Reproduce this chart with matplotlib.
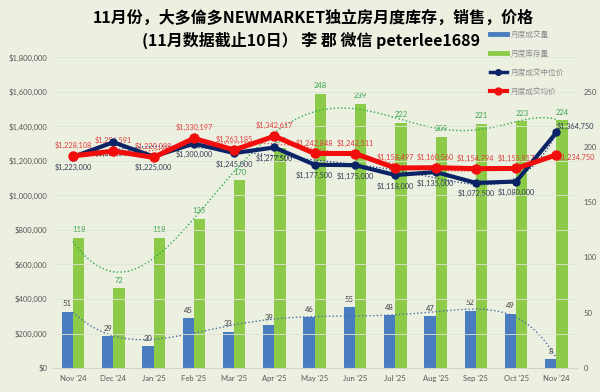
import numpy as np
import matplotlib.pyplot as plt
from matplotlib.lines import Line2D

plt.rcParams['font.family'] = ['Lato', 'Noto Sans CJK SC', 'DejaVu Sans']

months = ["Nov '24", "Dec '24", "Jan '25", "Feb '25", "Mar '25", "Apr '25", "May '25",
          "Jun '25", "Jul '25", "Aug '25", "Sep '25", "Oct '25", "Nov '24"]
sales = [51, 29, 20, 45, 33, 39, 46, 55, 48, 47, 52, 49, 8]
inventory = [118, 72, 118, 135, 170, 199, 248, 239, 222, 209, 221, 223, 224]
median_price = [1223000, 1307500, 1225000, 1300000, 1245000, 1277500, 1177500,
                1175000, 1118000, 1135000, 1072500, 1080000, 1364750]
avg_price = [1228108, 1256591, 1220088, 1330197, 1263185, 1342617, 1242848,
             1242511, 1158497, 1160560, 1154794, 1155917, 1234750]

BG = "#EBF0E1"
BLUE = "#4A7DBF"
GREEN = "#8CCB48"
NAVY = "#0B2466"
RED = "#F20D0D"
GRAY = "#595959"

fig = plt.figure(figsize=(6, 3.92), dpi=100, facecolor=BG)
ax = fig.add_axes([0.088, 0.061, 0.873, 0.793], facecolor=BG)
x = np.arange(len(months))
w = 0.28

ax.bar(x - w / 2, sales, w, color=BLUE, zorder=2)
ax.bar(x + w / 2, inventory, w, color=GREEN, zorder=2)
for i in x:
    ax.text(i - w / 2, sales[i] + 4, str(sales[i]), ha="center", va="bottom",
            fontsize=5.5, color="#404040")
    ax.text(i + w / 2, inventory[i] + 4, str(inventory[i]), ha="center", va="bottom",
            fontsize=5.5, color="#3FA34D")

# polynomial trendlines (like Excel's)
xs = np.linspace(0, len(x) - 1, 200)
ps = np.polyfit(x, sales, 6)
pi = np.polyfit(x, inventory, 6)
ax.plot(xs, np.polyval(ps, xs), ls=":", color="#4A6FA5", lw=1, zorder=3)
ax.plot(xs, np.polyval(pi, xs), ls=":", color="#2EA84A", lw=1, zorder=3)

ax.set_ylim(0, 281)
ax.set_xlim(-0.5, len(x) - 0.5)
ax.set_xticks(x)
ax.set_xticklabels(months)
for s in ax.spines.values():
    s.set_visible(False)
ax.spines["bottom"].set_visible(True)
ax.spines["bottom"].set_color("#D0D5C5")

ax2 = ax.twinx()
ax.yaxis.tick_right()
ax.set_yticks([0, 50, 100, 150, 200, 250])
ax.tick_params(axis="both", length=0, labelsize=5.5, labelcolor=GRAY, pad=5)
ax2.yaxis.tick_left()
ax2.set_ylim(0, 1800000)
ax2.set_yticks(np.arange(0, 1800001, 200000))
ax2.set_yticklabels(["$0"] + [f"${v:,}" for v in range(200000, 1800001, 200000)])
ax2.tick_params(axis="y", length=0, labelsize=5.5, labelcolor=GRAY, pad=4)
for v in range(200000, 1800001, 200000):
    ax2.axhline(v, color="#DFE5D4", lw=0.6, zorder=0)
for s in ax2.spines.values():
    s.set_visible(False)

pm = np.polyfit(x, median_price, 6)
pa = np.polyfit(x, avg_price, 6)
ax2.plot(xs, np.polyval(pm, xs), ls=":", color="#1F3A80", lw=0.9)
ax2.plot(xs, np.polyval(pa, xs), ls=":", color="#E04A4A", lw=0.9)

ax2.plot(x, median_price, color=NAVY, lw=3, marker="o", ms=5, zorder=4)
ax2.plot(x, avg_price, color=RED, lw=3.6, marker="o", ms=6.5, zorder=5)

for i in x:
    if i == len(x) - 1:
        ax2.annotate(f"${median_price[i]:,}", (i, median_price[i]), xytext=(0, 2),
                     textcoords="offset points", ha="left", va="bottom", fontsize=5.3,
                     color="#333F55")
        ax2.annotate(f"${avg_price[i]:,}", (i, avg_price[i]), xytext=(1, -2),
                     textcoords="offset points", ha="left", va="center", fontsize=5.3,
                     color="#E03C3C")
        continue
    ax2.annotate(f"${median_price[i]:,}", (i, median_price[i]), xytext=(0, -5),
                 textcoords="offset points", ha="center", va="top", fontsize=5.3,
                 color="#333F55")
    ax2.annotate(f"${avg_price[i]:,}", (i, avg_price[i]), xytext=(0, 5),
                 textcoords="offset points", ha="center", va="bottom", fontsize=5.3,
                 color="#E03C3C")

fig.text(0.522, 0.955, "11月份，大多倫多NEWMARKET独立房月度库存，销售，价格",
         ha="center", va="center", fontsize=11.5, fontweight="bold",
         family=["Noto Sans CJK SC", "DejaVu Sans"])
fig.text(0.518, 0.897, "(11月数据截止10日） 李 郡 微信 peterlee1689",
         ha="center", va="center", fontsize=11.5, fontweight="bold",
         family=["Noto Sans CJK SC", "DejaVu Sans"])

# legend
handles = [Line2D([], [], color=BLUE, lw=3.5), Line2D([], [], color=GREEN, lw=3.5),
           Line2D([], [], color=NAVY, lw=2.5, marker="o", ms=4),
           Line2D([], [], color=RED, lw=3, marker="o", ms=5)]
labels = ["月度成交量", "月度库存量", "月度成交中位价", "月度成交均价"]
leg = fig.legend(handles, labels, loc="upper left", bbox_to_anchor=(0.805, 0.94),
                 frameon=False, labelspacing=1.45, handlelength=2.2, handletextpad=0.5,
                 prop={"family": ["Noto Sans CJK SC"], "size": 5.5})
for t in leg.get_texts():
    t.set_color("#8C8C8C")

fig.savefig("out.png", dpi=100, facecolor=BG)
